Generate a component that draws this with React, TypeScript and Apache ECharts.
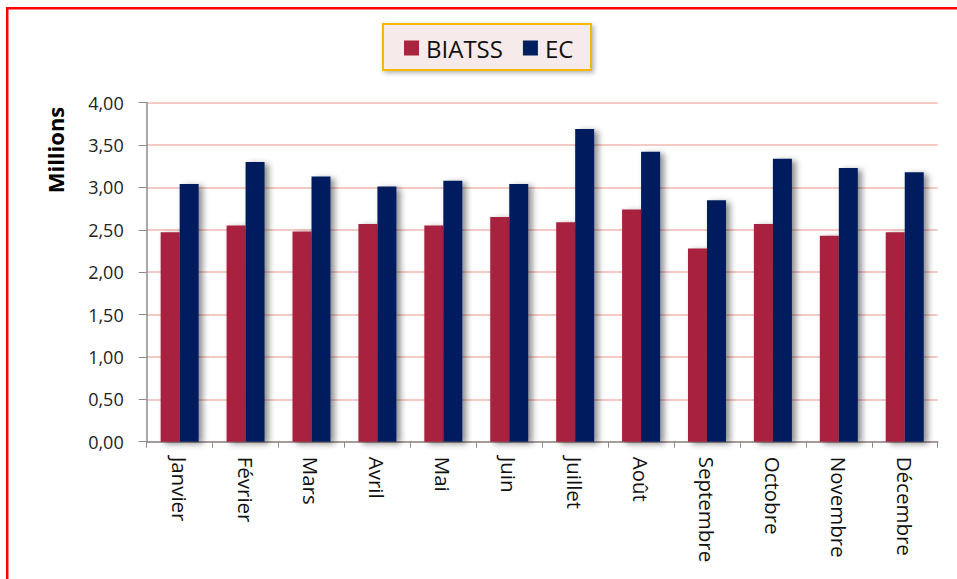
import React, { useEffect, useRef } from "react";
import * as echarts from "echarts";

const months = ["Janvier", "Février", "Mars", "Avril", "Mai", "Juin", "Juillet", "Août", "Septembre", "Octobre", "Novembre", "Décembre"];
const biatss = [2.47, 2.55, 2.48, 2.57, 2.55, 2.65, 2.59, 2.74, 2.28, 2.57, 2.43, 2.47];
const ec = [3.04, 3.30, 3.13, 3.01, 3.08, 3.04, 3.69, 3.42, 2.85, 3.34, 3.23, 3.18];
const seriesNames = ["BIATSS", "EC"];
const yAxisTitle = "Millions";

export default function App() {
  const ref = useRef<HTMLDivElement>(null);
  useEffect(() => {
    const chart = echarts.init(ref.current!, null, { renderer: "svg" });
    const font = "'Open Sans', 'Noto Sans', sans-serif";
    const shadow = {
      shadowColor: "rgba(0,0,0,0.45)",
      shadowBlur: 6,
      shadowOffsetX: 4,
      shadowOffsetY: 2,
    };
    chart.setOption({
      animation: false,
      backgroundColor: "#ffffff",
      textStyle: { fontFamily: font },
      graphic: [
        { type: "rect", shape: { x: 6, y: 7, width: 951, height: 2.5 }, style: { fill: "#ff0000" }, z: 10 },
        { type: "rect", shape: { x: 6, y: 7, width: 2.5, height: 572 }, style: { fill: "#ff0000" }, z: 10 },
        {
          type: "rect",
          shape: { x: 383, y: 24, width: 208, height: 46 },
          style: {
            fill: "#f7eaea",
            stroke: "#f5b800",
            lineWidth: 2,
            shadowColor: "rgba(0,0,0,0.3)",
            shadowBlur: 5,
            shadowOffsetX: 2,
            shadowOffsetY: 2,
          },
          z: 0,
        },
        {
          type: "text",
          x: 55,
          y: 150,
          rotation: Math.PI / 2,
          style: {
            text: yAxisTitle,
            font: "bold 22px " + font,
            fill: "#000000",
            textAlign: "center",
            textVerticalAlign: "middle",
          },
          z: 10,
        },
      ],
      legend: {
        data: seriesNames,
        left: 399,
        top: 31,
        itemWidth: 15,
        itemHeight: 15,
        itemGap: 20,
        icon: "rect",
        textStyle: { fontSize: 24, color: "#111", fontFamily: font, padding: [0, 0, 0, 2] },
        z: 5,
      },
      grid: { left: 146.7, right: 19.3, top: 102.7, bottom: 137.3, containLabel: false },
      xAxis: {
        type: "category",
        data: months,
        axisLine: { show: true, lineStyle: { color: "#8c8c8c", width: 1.5 } },
        axisTick: { show: true, length: 6, lineStyle: { color: "#8c8c8c" } },
        axisLabel: { rotate: -90, fontSize: 20.5, color: "#111", margin: 15, fontFamily: font },
      },
      yAxis: {
        type: "value",
        min: 0,
        max: 4,
        interval: 0.5,
        axisLine: { show: true, lineStyle: { color: "#8c8c8c", width: 1.5 } },
        axisTick: { show: true, inside: false, length: 8, lineStyle: { color: "#8c8c8c" } },
        axisLabel: {
          fontSize: 18,
          color: "#222",
          margin: 23,
          fontFamily: font,
          formatter: (v: number) => v.toFixed(2).replace(".", ","),
        },
        splitLine: { show: true, lineStyle: { color: "#f3b8b1", width: 1.5 } },
      },
      series: [
        {
          name: seriesNames[0],
          type: "bar",
          data: biatss,
          barWidth: 19,
          barGap: "0%",
          itemStyle: { color: "#a8243f", ...shadow },
        },
        {
          name: seriesNames[1],
          type: "bar",
          data: ec,
          barWidth: 19,
          barGap: "0%",
          itemStyle: { color: "#001f5f", ...shadow },
        },
      ],
    });
    return () => chart.dispose();
  }, []);
  return (
    <div
      ref={ref}
      style={{ position: "fixed", left: 0, top: 0, width: 957, height: 579 }}
    />
  );
}
